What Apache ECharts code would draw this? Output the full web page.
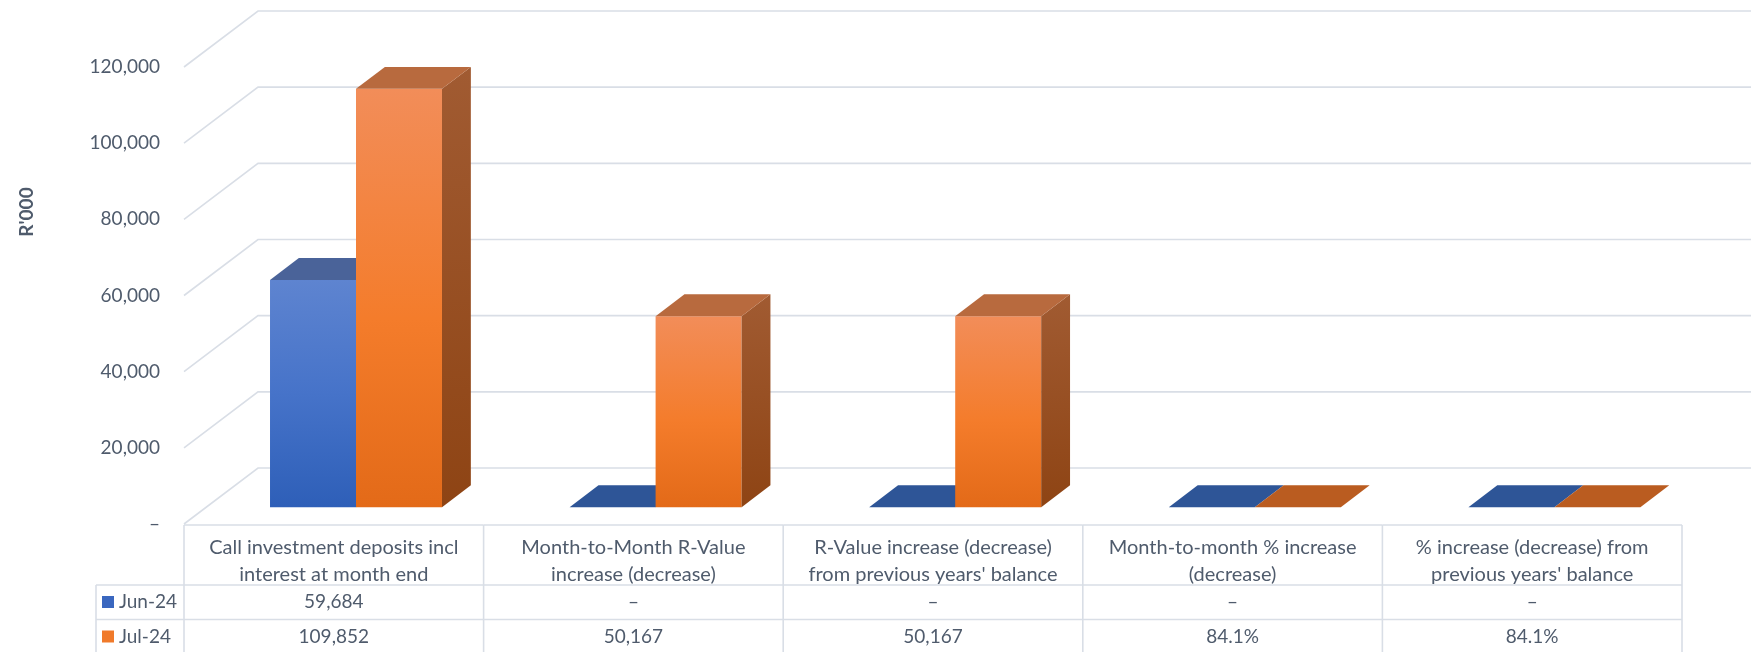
<!DOCTYPE html>
<html><head><meta charset="utf-8">
<script src="https://cdn.jsdelivr.net/npm/echarts@6/dist/echarts.min.js"></script>
<style>html,body{margin:0;padding:0;background:#fff}#c{width:1751px;height:652px}</style>
</head><body><div id="c"></div>
<script>
// ---- data ----
const categories = [
  'Call investment deposits incl\ninterest at month end',
  'Month-to-Month R-Value\nincrease (decrease)',
  'R-Value increase (decrease)\nfrom previous years\' balance',
  'Month-to-month % increase\n(decrease)',
  '% increase (decrease) from\nprevious years\' balance'
];
const valueKinds = ['amount', 'amount', 'amount', 'percent', 'percent'];
const jun24 = [59684, 0, 0, 0, 0];
const jul24 = [109852, 50167, 50167, 0.841, 0.841];
const seriesNames = ['Jun-24', 'Jul-24'];
const yTicks = [0, 20000, 40000, 60000, 80000, 100000, 120000];
const yAxisTitle = "R'000";

// ---- style / geometry ----
const FONT = 'Lato, "Noto Sans", sans-serif';
const TXT = '#4F5B6C';
const GRID_COLOR = '#D9DEE6';
const TABLE_LINE = '#D9DEE6';
const WALL_DX = 74, WALL_DY = 56;
const BAR_FRONT = 0.3, BAR_BACK = 0.69;
const BAR_W_RATIO = 0.287;
const HEAD_H = 60, ROW_H = 34.5, LEGEND_LEFT = 96;

function fmt(v, kind) {
  if (kind === 'percent') return v === 0 ? '–' : (v * 100).toFixed(1) + '%';
  if (v === 0) return '–';
  return v.toLocaleString('en-US');
}
function lin(stops) {
  return { type: 'linear', x: 0, y: 0, x2: 0, y2: 1, colorStops: stops.map(s => ({ offset: s[0], color: s[1] })) };
}
const palettes = {
  'Jun-24': {
    front: lin([[0, '#5E84D0'], [0.5, '#4673C9'], [1, '#2E5FB8']]),
    side: lin([[0, '#3A5C9E'], [1, '#27488A']]),
    top: '#4A6399', flat: '#2E5597', legend: '#3A67BF'
  },
  'Jul-24': {
    front: lin([[0, '#F28D59'], [0.55, '#F47C2B'], [1, '#E36A18']]),
    side: lin([[0, '#A15B32'], [1, '#8E4414']]),
    top: '#B86A3E', flat: '#BA5C20', legend: '#F07A2A'
  }
};

function renderGridLine(params, api) {
  const cs = params.coordSys;
  const y = api.coord([0, api.value(1)])[1];
  const x0 = cs.x, x1 = cs.x + cs.width;
  return {
    type: 'polyline',
    shape: { points: [[x0, y], [x0 + WALL_DX, y - WALL_DY], [x1 + WALL_DX, y - WALL_DY]] },
    style: { stroke: GRID_COLOR, lineWidth: 1.6, fill: null }
  };
}

function makeBarRenderer(side, pal) {
  return function (params, api) {
    const i = api.value(0), v = api.value(1);
    const base = api.coord([i, 0]);
    const top = api.coord([i, v]);
    const band = api.size([1, 0])[0];
    const w = band * BAR_W_RATIO;
    const fdx = WALL_DX * BAR_FRONT, fdy = WALL_DY * BAR_FRONT;
    const ddx = WALL_DX * (BAR_BACK - BAR_FRONT), ddy = WALL_DY * (BAR_BACK - BAR_FRONT);
    const xl = base[0] + (side < 0 ? -w : 0) + fdx;
    const xr = xl + w;
    const yb = base[1] - fdy;
    const yt = top[1] - fdy;
    const children = [];
    if (yb - yt >= 1) {
      children.push({ type: 'polygon', shape: { points: [[xl, yt], [xr, yt], [xr, yb], [xl, yb]] }, style: { fill: pal.front } });
      children.push({ type: 'polygon', shape: { points: [[xr, yt], [xr + ddx, yt - ddy], [xr + ddx, yb - ddy], [xr, yb]] }, style: { fill: pal.side } });
      children.push({ type: 'polygon', shape: { points: [[xl, yt], [xr, yt], [xr + ddx, yt - ddy], [xl + ddx, yt - ddy]] }, style: { fill: pal.top } });
    } else {
      children.push({ type: 'polygon', shape: { points: [[xl, yb], [xr, yb], [xr + ddx, yb - ddy], [xl + ddx, yb - ddy]] }, style: { fill: pal.flat } });
    }
    return { type: 'group', children };
  };
}

function line(x1, y1, x2, y2) {
  return { type: 'line', shape: { x1, y1, x2, y2 }, style: { stroke: TABLE_LINE, lineWidth: 1.6 } };
}
function cellText(text, x, y) {
  return { type: 'text', style: { text, x, y, align: 'center', verticalAlign: 'middle', textAlign: 'center', textVerticalAlign: 'middle', fill: TXT, fontSize: 19, fontFamily: FONT } };
}
function renderTable(params, api) {
  const i = api.value(0);
  const cs = params.coordSys;
  const c = api.coord([i, 0]);
  const band = api.size([1, 0])[0];
  const xl = c[0] - band / 2, xr = c[0] + band / 2;
  const yTop = cs.y + cs.height + 1;
  const yHead = yTop + HEAD_H, yR1 = yHead + ROW_H, yR2 = yR1 + ROW_H;
  const ch = [];
  ch.push(line(xl, yTop, xr, yTop), line(xl, yHead, xr, yHead), line(xl, yR1, xr, yR1), line(xl, yR2, xr, yR2));
  ch.push(line(xr, yTop, xr, yR2 + 2));
  if (i === 0) {
    ch.push(line(xl, yTop, xl, yR2 + 2));
    ch.push(line(LEGEND_LEFT, yHead, xl, yHead), line(LEGEND_LEFT, yR1, xl, yR1), line(LEGEND_LEFT, yR2, xl, yR2));
    ch.push(line(LEGEND_LEFT, yHead, LEGEND_LEFT, yR2 + 2));
  }
  ch.push(cellText(fmt(jun24[i], valueKinds[i]), c[0], yHead + ROW_H / 2));
  ch.push(cellText(fmt(jul24[i], valueKinds[i]), c[0], yR1 + ROW_H / 2));
  return { type: 'group', children: ch };
}

const chart = echarts.init(document.getElementById('c'), null, { renderer: 'canvas' });
chart.setOption({
  backgroundColor: '#fff',
  animation: false,
  grid: { left: 184, right: 69, top: 67, bottom: 128, containLabel: false },
  xAxis: {
    type: 'category', data: categories,
    axisLine: { show: false }, axisTick: { show: false }, splitLine: { show: false },
    axisLabel: { interval: 0, margin: 10, fontSize: 20, lineHeight: 27, color: TXT, fontFamily: FONT }
  },
  yAxis: {
    type: 'value', min: 0, max: 120000, interval: 20000,
    axisLine: { show: false }, axisTick: { show: false }, splitLine: { show: false },
    axisLabel: { margin: 24, fontSize: 19, color: TXT, fontFamily: FONT,
      formatter: v => v === 0 ? '–' : v.toLocaleString('en-US') }
  },
  legend: {
    data: seriesNames, orient: 'vertical', left: 102, top: 592, padding: 0,
    itemWidth: 12, itemHeight: 12, itemGap: 14.5, icon: 'rect', selectedMode: false,
    textStyle: { fontFamily: FONT, fontSize: 19, color: TXT, lineHeight: 20 }
  },
  graphic: [{
    type: 'text', x: 27, y: 212, rotation: Math.PI / 2,
    style: { text: yAxisTitle, font: 'bold 19px ' + FONT, fill: TXT, align: 'center', verticalAlign: 'middle', textAlign: 'center', textVerticalAlign: 'middle' }
  }],
  series: [
    { type: 'custom', name: 'gridlines', silent: true, z: 1, data: yTicks.map(v => [0, v]), encode: { x: 0, y: 1 }, renderItem: renderGridLine },
    { type: 'custom', name: seriesNames[0], z: 3, itemStyle: { color: palettes['Jun-24'].legend },
      data: jun24.map((v, i) => [i, v]), encode: { x: 0, y: 1 }, renderItem: makeBarRenderer(-1, palettes['Jun-24']) },
    { type: 'custom', name: seriesNames[1], z: 4, itemStyle: { color: palettes['Jul-24'].legend },
      data: jul24.map((v, i) => [i, v]), encode: { x: 0, y: 1 }, renderItem: makeBarRenderer(1, palettes['Jul-24']) },
    { type: 'custom', name: 'table', silent: true, z: 2, data: categories.map((c, i) => [i, 0]), encode: { x: 0, y: 1 }, renderItem: renderTable }
  ]
});
</script></body></html>
